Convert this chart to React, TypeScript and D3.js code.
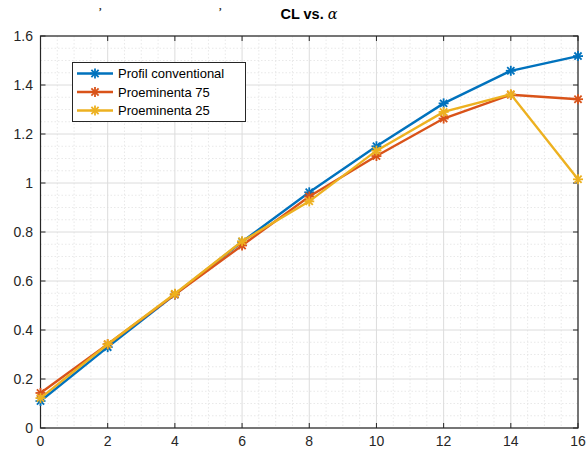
import React from "react";
import * as d3 from "d3";

const alpha = [0, 2, 4, 6, 8, 10, 12, 14, 16];
const clConventional = [0.11, 0.33, 0.545, 0.76, 0.962, 1.15, 1.325, 1.458, 1.518];
const clProem75 = [0.143, 0.342, 0.545, 0.745, 0.945, 1.11, 1.263, 1.36, 1.342];
const clProem25 = [0.122, 0.342, 0.548, 0.762, 0.925, 1.132, 1.29, 1.362, 1.015];
const seriesNames = ["Profil conventional", "Proeminenta 75", "Proeminenta 25"];
const seriesColors = ["#0072BD", "#D95319", "#EDB120"];
const xTicks = [0, 2, 4, 6, 8, 10, 12, 14, 16];
const yTicks = [0, 0.2, 0.4, 0.6, 0.8, 1, 1.2, 1.4, 1.6];

const W = 586, H = 450;
const L = 40.5, R = 578, T = 36, B = 428;

function Star({ x, y, color, s = 5 }: { x: number; y: number; color: string; s?: number }) {
  const d = s * 0.72;
  return (
    <g stroke={color} strokeWidth={1.8}>
      <line x1={x - s} y1={y} x2={x + s} y2={y} />
      <line x1={x} y1={y - s} x2={x} y2={y + s} />
      <line x1={x - d} y1={y - d} x2={x + d} y2={y + d} />
      <line x1={x - d} y1={y + d} x2={x + d} y2={y - d} />
    </g>
  );
}

export default function App() {
  const x = d3.scaleLinear().domain([0, 16]).range([L, R]);
  const y = d3.scaleLinear().domain([0, 1.6]).range([B, T]);
  const series = [clConventional, clProem75, clProem25];
  const line = d3.line<number>().x((_, i) => x(alpha[i])).y((v) => y(v));
  const xMinor = d3.range(0, 16.001, 0.5).filter((v) => Math.abs(v % 2) > 1e-6);
  const yMinor = d3.range(0, 1.6001, 0.05).filter((v) => Math.abs(Math.round(v * 100) % 20) > 1e-6);
  const font = "'Liberation Sans', Arial, sans-serif";
  const tickLen = 5;
  return (
    <svg width={W} height={H} style={{ position: "absolute", left: 0, top: 0, background: "#fff" }} fontFamily={font}>
      <rect x={0} y={0} width={W} height={H} fill="#fff" />
      <text x={99} y={10} fontSize={10} fontWeight="bold" fontFamily="serif" fill="#222">,</text>
      <text x={219} y={10} fontSize={10} fontWeight="bold" fontFamily="serif" fill="#222">,</text>
      {/* minor grid */}
      {xMinor.map((v) => (
        <line key={"xm" + v} x1={x(v)} x2={x(v)} y1={T} y2={B} stroke="#e3e3e3" strokeWidth={0.8} strokeDasharray="1.5,2" />
      ))}
      {yMinor.map((v) => (
        <line key={"ym" + v} x1={L} x2={R} y1={y(v)} y2={y(v)} stroke="#e3e3e3" strokeWidth={0.8} strokeDasharray="1.5,2" />
      ))}
      {/* major grid */}
      {xTicks.map((v) => (
        <line key={"xg" + v} x1={x(v)} x2={x(v)} y1={T} y2={B} stroke="#dcdcdc" strokeWidth={1} />
      ))}
      {yTicks.map((v) => (
        <line key={"yg" + v} x1={L} x2={R} y1={y(v)} y2={y(v)} stroke="#dcdcdc" strokeWidth={1} />
      ))}
      {/* ticks */}
      {xTicks.map((v) => (
        <g key={"xt" + v} stroke="#262626" strokeWidth={1}>
          <line x1={x(v)} x2={x(v)} y1={B} y2={B - tickLen} />
          <line x1={x(v)} x2={x(v)} y1={T} y2={T + tickLen} />
        </g>
      ))}
      {yTicks.map((v) => (
        <g key={"yt" + v} stroke="#262626" strokeWidth={1}>
          <line x1={L} x2={L + tickLen} y1={y(v)} y2={y(v)} />
          <line x1={R} x2={R - tickLen} y1={y(v)} y2={y(v)} />
        </g>
      ))}
      <rect x={L} y={T} width={R - L} height={B - T} fill="none" stroke="#262626" strokeWidth={1.2} />
      {/* series */}
      {series.map((s, k) => (
        <g key={"s" + k}>
          <path d={line(s) || ""} fill="none" stroke={seriesColors[k]} strokeWidth={2.4} />
          {s.map((v, i) => (
            <Star key={i} x={x(alpha[i])} y={y(v)} color={seriesColors[k]} />
          ))}
        </g>
      ))}
      {/* tick labels */}
      {xTicks.map((v) => (
        <text key={"xl" + v} x={x(v)} y={446} textAnchor="middle" fontSize={14} fill="#262626">{v}</text>
      ))}
      {yTicks.map((v) => (
        <text key={"yl" + v} x={33} y={y(v) + 5} textAnchor="end" fontSize={14} fill="#262626">{String(v)}</text>
      ))}
      {/* title */}
      <text x={309} y={19} textAnchor="middle" fontSize={14.5} fontWeight="bold" fill="#000">
        CL vs. <tspan fontFamily="'DejaVu Serif', serif" fontStyle="italic" fontWeight="normal">α</tspan>
      </text>
      {/* legend */}
      <rect x={72.5} y={62.5} width={173} height={59} fill="#fff" stroke="#262626" strokeWidth={1} />
      {seriesNames.map((n, k) => {
        const ly = 73.5 + k * 18.5;
        return (
          <g key={"lg" + k}>
            <line x1={77} x2={113} y1={ly} y2={ly} stroke={seriesColors[k]} strokeWidth={2.4} />
            <Star x={95} y={ly} color={seriesColors[k]} />
            <text x={118} y={ly + 4.5} fontSize={13} fill="#000">{n}</text>
          </g>
        );
      })}
    </svg>
  );
}
